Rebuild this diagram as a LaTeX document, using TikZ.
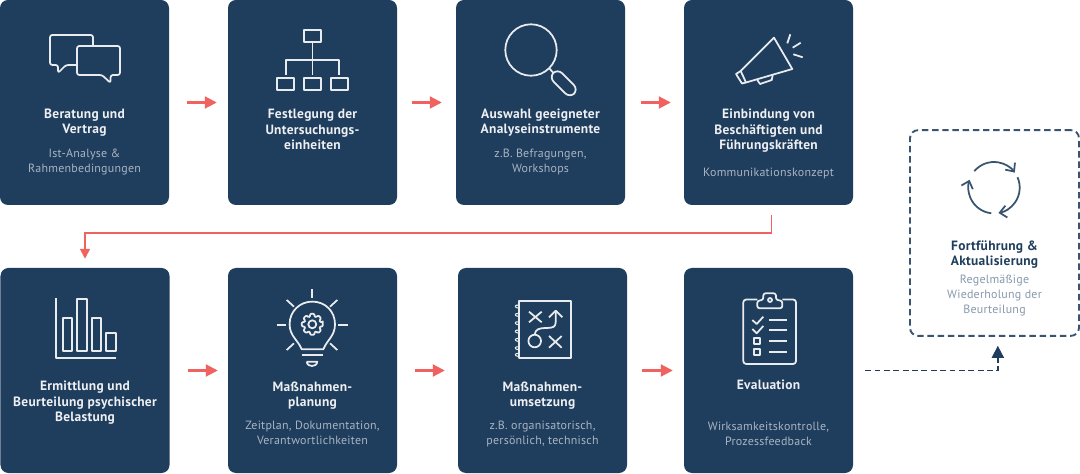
\documentclass[tikz,border=0pt]{standalone}
\usepackage{fontspec}
\setmainfont{PT Sans}[LetterSpace=2]
\usetikzlibrary{arrows.meta}
\definecolor{navy}{HTML}{1F3D5C}
\definecolor{coral}{HTML}{F0625F}
\definecolor{pale}{HTML}{A9B5C3}
\definecolor{frame}{HTML}{38546F}
\definecolor{haze}{HTML}{8698AC}
\tikzset{
  card/.style={rectangle,rounded corners=2.4mm,fill=navy,inner sep=0pt,
    minimum width=50.7mm,minimum height=61.5mm},
  head/.style={anchor=base,align=center,inner sep=0pt,text=white!92!navy,
    font=\fontsize{11.5}{13.6}\selectfont\bfseries},
  note/.style={anchor=base,align=center,inner sep=0pt,text=pale,
    font=\fontsize{10.2}{12.75}\selectfont},
  icon/.style={draw=white!90!navy,line width=1.5pt,line join=round},
  flow/.style 2 args={coral,line width=1.8pt,shorten <=#1*0.3mm,shorten >=#2*0.3mm,
    -{Triangle[length=3.6mm,width=3.6mm]}},
}
\begin{document}
\begin{tikzpicture}[x=0.3mm,y=-0.3mm]
\useasboundingbox (0,0) rectangle (1080,474);
% upper row
\node[card] (boxBeratung) at (84.5,102.5) {};
\node[card] (boxFestlegung) at (312.5,102.5) {};
\node[card] (boxAuswahl) at (540.5,102.5) {};
\node[card] (boxEinbindung) at (768.5,102.5) {};
% lower row
\node[card] (boxErmittlung) at (85,370.5) {};
\node[card] (boxPlanung) at (312.5,370.5) {};
\node[card] (boxUmsetzung) at (542.5,370.5) {};
\node[card] (boxEvaluation) at (768.5,370.5) {};
% dashed card
\node[rectangle,rounded corners=2.4mm,draw=frame,line width=1.6pt,dash pattern=on 5.5pt off 3.2pt,
  minimum width=50.7mm,minimum height=61.7mm,inner sep=0pt] (boxFortfuehrung) at (994.5,233) {};
% texts
\node[head] (headBeratung) at (84.5,134) {Beratung und\\Vertrag};
\node[note] (noteBeratung) at (84.5,172.5) {Ist-Analyse \&\\Rahmenbedingungen};
\node[head] (headFestlegung) at (312.5,150) {Festlegung der\\Untersuchungs-\\einheiten};
\node[head] (headAuswahl) at (540.5,134) {Auswahl geeigneter\\Analyseinstrumente};
\node[note] (noteAuswahl) at (540.5,172.5) {z.B. Befragungen,\\Workshops};
\node[head] (headEinbindung) at (768.5,150) {Einbindung von\\Beschäftigten und\\Führungskräften};
\node[note] (noteEinbindung) at (768.5,176.5) {Kommunikationskonzept};
\node[head] (headErmittlung) at (85,422) {Ermittlung und\\Beurteilung psychischer\\Belastung};
\node[head] (headPlanung) at (312.5,407) {Maßnahmen-\\planung};
\node[note] (notePlanung) at (312.5,444.5) {Zeitplan, Dokumentation,\\Verantwortlichkeiten};
\node[head] (headUmsetzung) at (542.5,407) {Maßnahmen-\\umsetzung};
\node[note] (noteUmsetzung) at (542.5,444.5) {z.B. organisatorisch,\\persönlich, technisch};
\node[head] (headEvaluation) at (768.5,390) {Evaluation};
\node[note] (noteEvaluation) at (768.5,445.5) {Wirksamkeitskontrolle,\\Prozessfeedback};
\node[head,text=navy] (headFortfuehrung) at (994.5,266) {Fortführung \&\\Aktualisierung};
\node[note,text=haze] (noteFortfuehrung) at (994.5,313.5) {Regelmäßige\\Wiederholung der\\Beurteilung};
% connectors
\draw[flow={18}{11}] (boxBeratung) -- (boxFestlegung);
\draw[flow={15}{14}] (boxFestlegung) -- (boxAuswahl);
\draw[flow={16}{13}] (boxAuswahl) -- (boxEinbindung);
\draw[flow={18}{10}] (boxErmittlung) -- (boxPlanung);
\draw[flow={18}{13}] (boxPlanung) -- (boxUmsetzung);
\draw[flow={15}{11}] (boxUmsetzung) -- (boxEvaluation);
\draw[coral,line width=1.4pt,shorten <=3mm,shorten >=2.7mm,-{Triangle[length=3mm,width=3mm]}]
  ([xshift=0.9mm]boxEinbindung.south) -- ++(0,28) -| (boxErmittlung.north);
\draw[navy,line width=1.4pt,dash pattern=on 5pt off 3pt,shorten <=3.6mm,shorten >=2.7mm,
  -{Triangle[length=3.6mm,width=3.6mm]}]
  (boxEvaluation.east) -| ([xshift=1mm]boxFortfuehrung.south);
% chat icon
\draw[icon,rounded corners=2] (93,46) -- (93,35) -- (50,35) -- (50,65) -- (58,65) -- (58,73) -- (66,65) -- (76,65);
\draw[icon,rounded corners=2] (77,46) -- (120,46) -- (120,75) -- (110.6,75) -- (110.6,83) -- (102,75) -- (77,75) -- cycle;
% hierarchy icon
\draw[icon] (304,30) rectangle (321,42);
\draw[icon] (312.5,42) -- (312.5,75);
\draw[icon] (285.7,75) -- (285.7,60) -- (339,60) -- (339,75);
\foreach \xleft in {277,304,331}
  \draw[icon] (\xleft,78) rectangle ++(17,12);
% magnifier icon
\draw[icon] (531,50) circle (25.7);
\draw[icon] (549.2,68.2) -- (553.2,72.8);
\draw[icon,rounded corners=5.5,rotate around={-45:(563.7,83.3)}] (549,77.3) rectangle (578.4,89.3);
% megaphone icon
\draw[icon] (774,37.7) -- (792.3,69) -- (746,82.5) -- (740.7,71) -- cycle;
\draw[icon] (740.7,71) -- (736,74) -- (742,83.5) -- (746,82.5);
\draw[icon] (757.3,80) -- (760,84) -- (771.7,80) -- (772.7,75.3);
\draw[icon] (790.3,34.3) -- (787.3,43.3);
\draw[icon] (800.7,42.7) -- (792.7,47.7);
\draw[icon] (802.7,57.3) -- (793.3,54.3);
% bar chart icon
\draw[icon] (55.7,298.3) -- (55.7,358.3) -- (116,358.3);
\draw[icon] (62.7,317.7) rectangle (72,350.7);
\draw[icon] (77.3,299) rectangle (86.7,350.7);
\draw[icon] (91.7,317.7) rectangle (101,350.7);
\draw[icon] (106.3,332.7) rectangle (115.7,350.7);
% bulb icon
\draw[icon] (301.7,349.3) .. controls (298,340) and (289.6,336) .. (289.6,324.3)
  .. controls (289.6,311) and (300,301.6) .. (312.3,301.6)
  .. controls (325,301.6) and (335,311) .. (335,324.3)
  .. controls (335,336) and (327,340) .. (323.3,349.3) -- cycle;
\draw[icon] (301.7,355) -- (323.3,355);
\draw[icon] (306.7,361.7) -- (317.3,361.7) .. controls (317,365) and (314,366) .. (312,366) .. controls (310,366) and (307,365) .. (306.7,361.7);
\draw[icon] (312.3,289.3) -- (312.3,298.3);
\draw[icon] (286.7,300) -- (294,306.7);
\draw[icon] (337.3,300) -- (330,306.7);
\draw[icon] (276.7,325) -- (286,325);
\draw[icon] (338.3,325) -- (347.7,325);
\draw[icon] (286.7,350) -- (294,343.3);
\draw[icon] (337.3,350) -- (330,343.3);
\begin{scope}[shift={(312.3,324.3)}]
\draw[icon] (0,0) circle (4);
\draw[icon,rounded corners=0.8] (-11:10.7) \foreach \ang in {0,45,...,315} {
  -- (\ang-11:10.7) -- (\ang+11:10.7) -- (\ang+17:8) -- (\ang+28:8) } -- cycle;
\end{scope}
% playbook icon
\draw[icon] (519,300.7) rectangle (570.7,357.7);
\foreach \yring in {306.7,315,323.3,331.7,340,348.3,355}
  \draw[icon,line width=0.9pt] (519,\yring-1.5) .. controls (514,\yring-2.5) and (514,\yring+1.5) .. (519,\yring+1.5);
\draw[icon] (529,311.7) -- (541.7,322.3) (529,322.3) -- (541.7,311.7);
\draw[icon] (549,336) -- (561.7,347.7) (549,347.7) -- (561.7,336);
\draw[icon] (534.7,341) circle (6.3);
\draw[icon] (534.7,334.7) .. controls (535,329) and (540,328) .. (546,328) .. controls (553,328) and (555.7,327) .. (555.7,322) -- (555.7,311);
\draw[icon] (549,317.3) -- (555.7,310.7) -- (562.3,317.3);
% clipboard icon
\draw[icon,rounded corners=2.5] (757.3,299.5) -- (743.3,299.5) -- (743.3,364) -- (796,364) -- (796,299.5) -- (782.3,299.5);
\draw[icon,rounded corners=2] (757.3,308.3) -- (782.3,308.3) -- (782.3,300.7) -- (776,300) -- (776,293.3) -- (763.3,293.3) -- (763.3,300) -- (757.3,300.7) -- cycle;
\draw[icon] (770,300) circle (2);
\draw[icon] (752.3,320) -- (756.7,324) -- (763.3,316.7);
\draw[icon] (752.3,329) -- (756.7,333.3) -- (763.3,326);
\draw[icon] (754,338.3) rectangle (760,344);
\draw[icon] (754,349.3) rectangle (760,355);
\foreach \yline in {320,330,341,351.7}
  \draw[icon] (769.3,\yline) -- (787.3,\yline);
% cycle icon
\begin{scope}[shift={(994,187.7)},y=0.3mm]
\draw[icon,draw=frame,-{Straight Barb[length=2mm,width=3.6mm]}] (140:25.7) arc[start angle=140,end angle=36,radius=25.7];
\draw[icon,draw=frame,-{Straight Barb[length=2mm,width=3.6mm]}] (24:25.7) arc[start angle=24,end angle=-80,radius=25.7];
\draw[icon,draw=frame,-{Straight Barb[length=2mm,width=3.6mm]}] (-96:25.7) arc[start angle=-96,end angle=-198,radius=25.7];
\end{scope}
\end{tikzpicture}
\end{document}
